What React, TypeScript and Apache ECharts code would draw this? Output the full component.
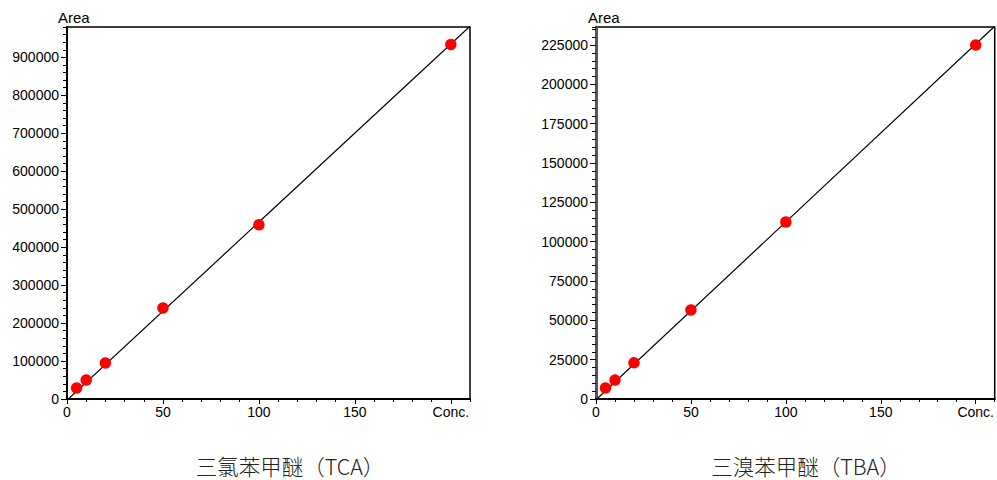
import React, { useEffect, useRef } from "react";
import * as echarts from "echarts";

const conc = [5, 10, 20, 50, 100, 200];
const tcaArea = [29000, 50000, 95000, 240000, 459000, 934000];
const tbaArea = [7000, 12000, 23000, 56600, 112500, 225000];
const tcaFit = [[0, -3000], [210, 982000]];
const tbaFit = [[0, -500], [210, 237000]];
const xTickLabelFor200 = "Conc.";
const titles = ["三氯苯甲醚（TCA）", "三溴苯甲醚（TBA）"];
const yName = "Area";

const FONT = "'Liberation Sans', Arial, sans-serif";

function mainX(grid: number, max: number) {
  return {
    type: "value", gridIndex: grid, min: 0, max, interval: 50, position: "bottom",
    axisLine: { show: true, onZero: false, lineStyle: { color: "#000", width: 2 } },
    axisTick: { show: true, length: 5, lineStyle: { color: "#000", width: 1 } },
    axisLabel: {
      show: true, margin: 6, color: "#000", fontSize: 14, fontFamily: FONT, showMaxLabel: false,
      formatter: (v: number) => (v === 200 ? xTickLabelFor200 : String(v)),
    },
    splitLine: { show: false },
  };
}
function minorX(grid: number, max: number) {
  return {
    type: "value", gridIndex: grid, min: 0, max, interval: 10, position: "bottom",
    axisLine: { show: false, onZero: false },
    axisTick: { show: true, length: 3, lineStyle: { color: "#000", width: 1 } },
    axisLabel: { show: false },
    splitLine: { show: false },
  };
}
function mainY(grid: number, max: number, interval: number, color: string, width: number) {
  return {
    type: "value", gridIndex: grid, min: 0, max, interval, position: "left",
    axisLine: { show: true, onZero: false, lineStyle: { color, width } },
    axisTick: { show: true, length: 6, lineStyle: { color: "#000", width: 1 } },
    axisLabel: {
      show: true, margin: 8, color: "#000", fontSize: 14, fontFamily: FONT, showMaxLabel: false,
      formatter: (v: number) => String(v),
    },
    splitLine: { show: false },
  };
}
function minorY(grid: number, max: number, interval: number) {
  return {
    type: "value", gridIndex: grid, min: 0, max, interval, position: "left",
    axisLine: { show: false, onZero: false },
    axisTick: { show: true, length: 4, lineStyle: { color: "#000", width: 1 } },
    axisLabel: { show: false },
    splitLine: { show: false },
  };
}

export default function App() {
  const ref = useRef<HTMLDivElement>(null);
  useEffect(() => {
    if (!ref.current) return;
    const chart = echarts.init(ref.current, null, { renderer: "svg" });
    const pts = (ys: number[]) => conc.map((c, i) => [c, ys[i]]);
    chart.setOption({
      animation: false,
      backgroundColor: "#fff",
      grid: [
        { left: 67, top: 27, width: 403, height: 372, show: true, borderColor: "#000", borderWidth: 1.5, backgroundColor: "transparent" },
        { left: 596, top: 27, width: 403, height: 372, show: true, borderColor: "#000", borderWidth: 1.5, backgroundColor: "transparent" },
      ],
      xAxis: [mainX(0, 210), minorX(0, 210), mainX(1, 210), minorX(1, 210)],
      yAxis: [
        mainY(0, 980000, 100000, "#000", 2),
        minorY(0, 980000, 20000),
        mainY(1, 236500, 25000, "#555", 3),
        minorY(1, 236500, 5000),
      ],
      series: [
        {
          type: "line", xAxisIndex: 0, yAxisIndex: 0, data: tcaFit, showSymbol: false, symbol: "none",
          clip: true, lineStyle: { color: "#000", width: 1.2 }, z: 2,
        },
        {
          type: "scatter", xAxisIndex: 0, yAxisIndex: 0, data: pts(tcaArea), symbolSize: 11.5,
          itemStyle: { color: "#ff0000", opacity: 1 }, z: 3,
        },
        {
          type: "line", xAxisIndex: 2, yAxisIndex: 2, data: tbaFit, showSymbol: false, symbol: "none",
          clip: true, lineStyle: { color: "#000", width: 1.2 }, z: 2,
        },
        {
          type: "scatter", xAxisIndex: 2, yAxisIndex: 2, data: pts(tbaArea), symbolSize: 11.5,
          itemStyle: { color: "#ff0000", opacity: 1 }, z: 3,
        },
      ],
      graphic: [
        { type: "text", left: 58, top: 10, style: { text: yName, fontSize: 15, fontFamily: FONT, fill: "#000" } },
        { type: "text", left: 588, top: 10, style: { text: yName, fontSize: 15, fontFamily: FONT, fill: "#000" } },
        {
          type: "text", x: 290, y: 465,
          style: { text: titles[0], fontSize: 21.5, fontWeight: 300, fontFamily: "'Noto Sans CJK SC', sans-serif", fill: "#222", align: "center", verticalAlign: "middle" },
        },
        {
          type: "text", x: 806, y: 465,
          style: { text: titles[1], fontSize: 21.5, fontWeight: 300, fontFamily: "'Noto Sans CJK SC', sans-serif", fill: "#222", align: "center", verticalAlign: "middle" },
        },
      ],
    });
    return () => chart.dispose();
  }, []);
  return <div ref={ref} style={{ position: "absolute", left: 0, top: 0, width: 997, height: 480 }} />;
}
